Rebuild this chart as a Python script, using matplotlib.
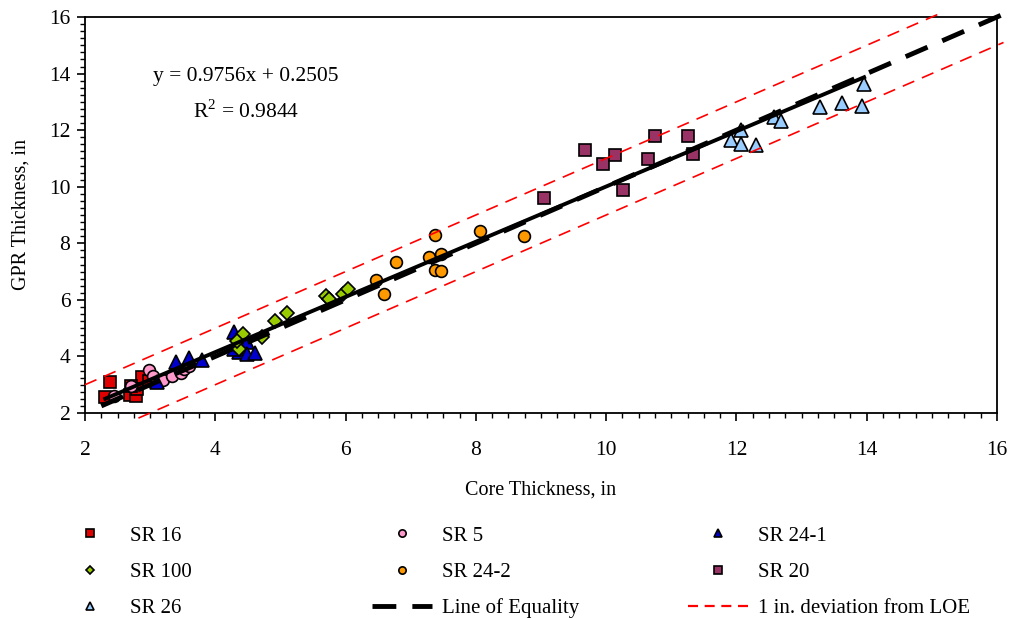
import matplotlib
matplotlib.use('Agg')
import matplotlib.pyplot as plt
from matplotlib.lines import Line2D
import numpy as np

plt.rcParams['font.family'] = ['Liberation Serif', 'DejaVu Serif']
plt.rcParams['mathtext.fontset'] = 'custom'
plt.rcParams['mathtext.rm'] = 'Liberation Serif'

# core thickness (x) and GPR thickness (y), inches
sr16_x = [2.31, 2.39, 2.69, 2.79, 2.80, 2.88, 2.71, 2.99]
sr16_y = [2.55, 3.08, 2.62, 2.60, 2.84, 3.28, 2.96, 3.14]

sr5_x = [2.45, 2.70, 2.98, 3.05, 3.20, 3.33, 3.48, 3.52, 3.60]
sr5_y = [2.60, 2.95, 3.52, 3.32, 3.15, 3.30, 3.40, 3.55, 3.65]

sr241_x = [3.10, 3.39, 3.59, 3.79, 4.29, 4.48, 4.37, 4.48, 4.61, 4.29]
sr241_y = [3.10, 3.80, 3.93, 3.88, 4.85, 4.50, 4.15, 4.10, 4.13, 4.27]

sr100_x = [4.42, 4.37, 4.33, 4.71, 4.92, 5.10, 5.70, 5.75, 5.96, 6.04]
sr100_y = [4.81, 4.25, 4.54, 4.70, 5.27, 5.55, 6.12, 6.02, 6.20, 6.38]

sr242_x = [6.47, 6.59, 6.78, 7.37, 7.28, 7.47, 7.37, 7.47, 8.06, 8.74]
sr242_y = [6.71, 6.21, 7.35, 8.31, 7.53, 7.62, 7.07, 7.03, 8.44, 8.25]

sr20_x = [9.05, 9.67, 9.95, 10.14, 10.26, 10.64, 10.75, 11.25, 11.33]
sr20_y = [9.60, 11.31, 10.79, 11.11, 9.90, 10.99, 11.81, 11.81, 11.17]

sr26_x = [12.07, 11.92, 12.07, 12.30, 12.57, 12.69, 13.29, 13.62, 13.93, 13.96]
sr26_y = [12.02, 11.64, 11.52, 11.46, 12.46, 12.34, 12.81, 12.95, 12.87, 13.63]

# trend line y = a*x + b
slope = 0.9756
intercept = 0.2505
r2 = 0.9844

loe_x = [2.25, 16.1]
dev_up_x = [2.0, 15.1]
dev_lo_x = [2.82, 16.1]
dev = 1.0

fig = plt.figure(figsize=(10.11, 6.18), dpi=100)
ax = fig.add_axes([85 / 1011, 1 - 413 / 618, 912 / 1011, 396 / 618])

series = [
    ('SR 16', sr16_x, sr16_y, 's', '#E00000', 8.5),
    ('SR 5', sr5_x, sr5_y, 'o', '#FF99CC', 8.5),
    ('SR 24-1', sr241_x, sr241_y, '^', '#0000CC', 9.5),
    ('SR 100', sr100_x, sr100_y, 'D', '#99CC00', 7),
    ('SR 24-2', sr242_x, sr242_y, 'o', '#FF9900', 8.5),
    ('SR 20', sr20_x, sr20_y, 's', '#993366', 8.5),
    ('SR 26', sr26_x, sr26_y, '^', '#99CCFF', 9.5),
]

handles = {}
for name, xs, ys, mk, col, ms in series:
    h, = ax.plot(xs, ys, linestyle='none', marker=mk, markersize=ms,
                 markerfacecolor=col, markeredgecolor='black',
                 markeredgewidth=1.2, label=name, zorder=3)
    handles[name] = h

loe_y = list(loe_x)
h, = ax.plot(loe_x, loe_y, color='black', lw=3.5, dashes=(4.9, 3.3),
             label='Line of Equality', zorder=4, clip_on=False)
handles['Line of Equality'] = h

up_y = [v + dev for v in dev_up_x]
lo_y = [v - dev for v in dev_lo_x]
ax.plot(dev_up_x, up_y, color='#FF0000', lw=1.2, dashes=(7.5, 5),
        zorder=4, clip_on=False)
ax.plot(dev_lo_x, lo_y, color='#FF0000', lw=1.2, dashes=(7.5, 5),
        zorder=4, clip_on=False)
# legend sample uses shorter dashes, as in the original
handles['1 in. deviation from LOE'] = Line2D([], [], color='#FF0000', lw=1.6,
                                             dashes=(4.5, 3))

all_x = sr16_x + sr5_x + sr241_x + sr100_x + sr242_x + sr20_x + sr26_x
tx = np.array([min(all_x), max(all_x)])
ax.plot(tx, slope * tx + intercept, color='black', lw=2.8, zorder=5)

ax.text(0.1765, 0.85, 'y = %.4fx + %.4f' % (slope, intercept),
        transform=ax.transAxes, ha='center', va='center', fontsize=15.5)
ax.text(0.1765, 0.7626, 'R$^2$ = %.4f' % r2,
        transform=ax.transAxes, ha='center', va='center', fontsize=15.5)

ax.set_xlim(2, 16)
ax.set_ylim(2, 16)
ax.set_xticks(np.arange(2, 17, 2))
ax.set_yticks(np.arange(2, 17, 2))
ax.set_xticks(np.arange(2, 16.01, 0.25), minor=True)
ax.set_yticks(np.arange(2, 16.01, 0.25), minor=True)
ax.tick_params(which='major', direction='out', length=5.5, width=1.2,
               labelsize=15.5, colors='black')
ax.tick_params(which='minor', direction='out', length=3.5, width=1.0)
ax.tick_params(axis='x', which='major', pad=15)
ax.tick_params(axis='y', which='major', pad=5)
for s in ax.spines.values():
    s.set_linewidth(1.3)

ax.set_xlabel('Core Thickness, in', fontsize=14.5)
ax.set_ylabel('GPR Thickness, in', fontsize=14.5)
ax.xaxis.set_label_coords(0.5, -0.17)
ax.yaxis.set_label_coords(-0.06, 0.5)

cols = [
    ['SR 16', 'SR 100', 'SR 26'],
    ['SR 5', 'SR 24-2', 'Line of Equality'],
    ['SR 24-1', 'SR 20', '1 in. deviation from LOE'],
]
col_x = [60 / 1011, 372 / 1011, 688 / 1011]
for names, x0 in zip(cols, col_x):
    fig.legend([handles[n] for n in names], names, loc='upper left',
               bbox_to_anchor=(x0, 1 - 526 / 618), frameon=False,
               fontsize=15, handlelength=2.9, handletextpad=0.48,
               labelspacing=0.8, borderpad=0, borderaxespad=0,
               markerscale=0.62)

fig.savefig('out.png', dpi=100)
